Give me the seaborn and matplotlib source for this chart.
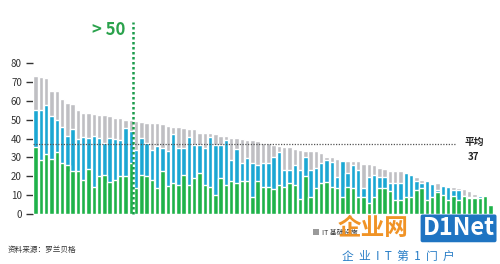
import matplotlib
matplotlib.use("Agg")
import matplotlib.pyplot as plt
import seaborn as sns
import pandas as pd
import numpy as np

# ---- data ----
total = [73.3, 72.4, 72, 65, 65, 61, 59, 58.5, 55, 53.6, 53.5, 53, 52.5, 52.5, 52, 51, 51, 50, 50,
         49.5, 49, 48.5, 48, 48, 47.8, 46.5, 46.2, 46, 45.6,
         45, 45, 43.2, 43, 43, 42.2, 41.5, 41.5, 40.4, 40.4, 39.7, 39.3, 39, 38.6, 37.9, 37.5, 36.7, 36.3,
         35.8, 35.3, 34.4, 34, 33.5, 33.5, 33.2, 32.3,
         30.5, 30.5, 29.1, 28.8, 28.3, 27.9, 27.9, 26.6, 26.6, 26, 24.4, 23.8, 22.6, 22.6, 22.6, 22, 21.5,
         19.6, 18.2, 17.6, 16.7, 16.4, 15.5, 14.6, 14.1, 13.8, 13.2, 12, 10.8, 10.2, 9.7, 4.9]
blue_top = [55.2, 55, 58, 52, 50, 46, 41.5, 45, 39.7, 41, 40.5, 41.5, 40.5, 37.6, 40.5, 40, 39.4, 45.5, 43.8,
            34, 40.5, 37.5, 34, 36, 35, 33.2, 42.4, 35, 35,
            41, 36.7, 36.7, 35, 41, 36.7, 36.7, 39, 28.8, 34.4, 27.3, 29.7, 27, 26, 27.3, 27.3, 30.5, 32.8,
            23.5, 23.5, 26, 23.2, 30.5, 23.2, 24.4, 27,
            28.8, 27.5, 19.6, 27.9, 21.9, 26.2, 23.5, 13.8, 19.9, 20.8, 19.9, 19.9, 16.7, 16.4, 16.4, 22, 20.5,
            17.3, 16.7, 17.3, 16.2, 12.9, 14.8, 14.3, 12.6, 12.6, 9.7, 9.3, 9.3, 9.8, 9.7, 4.9]
green_top = [35.5, 28.5, 32, 29, 33, 27, 26, 23, 22.6, 18.2, 24, 14.6, 20, 20.8, 17, 18, 20, 20, 27,
             13.8, 20.5, 20, 18, 13.8, 22.6, 15, 16.4, 15.5, 20.8,
             15.5, 19, 21.7, 15.5, 14.3, 10.2, 19, 15.5, 17.3, 16.4, 17.3, 17.3, 9.3, 17.3, 14.6, 14.6, 13.2, 15.5,
             14.3, 16.4, 15.5, 7.9, 20, 9.3, 13.8, 16.4,
             17, 14.3, 13.8, 9.3, 14.6, 13.8, 9.3, 9.3, 5.8, 9.3, 13.8, 13.8, 12, 7.6, 7.6, 9.3, 9.3,
             12.9, 13.8, 7.6, 9.3, 11.5, 10.2, 7.6, 9.7, 7.6, 9.7, 8.5, 8.5, 8.5, 9.7, 4.9]
average = 37
threshold_index = 18.5          # boundary of companies > 50
yticks = [0, 10, 20, 30, 40, 50, 60, 70, 80]
legend_label = "IT 基础设施"
source_text = "资料来源：罗兰贝格"

# ---- plotting ----
sns.set_style("white")
plt.rcParams['font.family'] = ['Noto Sans CJK SC', 'DejaVu Sans']

n = len(total)
df = pd.DataFrame({"company": list(range(n)), "total": total,
                   "blue": blue_top, "green": green_top})

fig = plt.figure(figsize=(5.0, 2.64), dpi=100)
ax = fig.add_axes([0.066, 0.189, 0.92, 0.572])

GRAY = "#bfbfc3"
BLUE = "#1ba7d3"
GREEN = "#1fb24a"
bw = 0.84
sns.barplot(data=df, x="company", y="total", color=GRAY, width=bw, saturation=1, ax=ax)
sns.barplot(data=df, x="company", y="blue", color=BLUE, width=bw, saturation=1, ax=ax)
sns.barplot(data=df, x="company", y="green", color=GREEN, width=bw, saturation=1, ax=ax)

ax.set_xlim(-0.5, n - 0.5)
ax.set_ylim(0, 80)
ax.set_yticks(yticks)
ax.set_yticklabels([str(v) for v in yticks], fontsize=7, color="#333333")
ax.set_xticks([])
ax.set_xlabel("")
ax.set_ylabel("")
for s in ax.spines.values():
    s.set_visible(False)
ax.tick_params(axis="y", left=True, length=5, width=1, color="#333333", pad=3)

# average dotted line
ax.plot([-0.5, 79.4], [average, average], linestyle=(0, (1, 1.2)), color="#555555", lw=0.9)
fig.text(0.948, 0.462, "平均", ha="center", va="center", fontsize=7, fontweight="bold", color="#222222")
fig.text(0.948, 0.405, str(average), ha="center", va="center", fontsize=7, fontweight="bold", color="#222222")

# > 50 vertical dotted line
ax.plot([threshold_index, threshold_index], [0, 102], linestyle=(0, (1, 1)), color="#1a9a4a",
        lw=1.8, clip_on=False)
ax.text(16.9, 97.6, "> 50", ha="right", va="center", fontsize=12, fontweight="bold",
        color="#2aa24c", clip_on=False)

# legend
fig.patches.append(plt.Rectangle((0.626, 0.111), 0.011, 0.022, transform=fig.transFigure,
                                 facecolor="#9a9a9a", edgecolor="none"))
fig.text(0.643, 0.122, legend_label, ha="left", va="center", fontsize=5, color="#333333")

# source
fig.text(0.016, 0.053, source_text, ha="left", va="center", fontsize=5.5, color="#333333")

# watermark
fig.text(0.676, 0.135, "企业网", ha="left", va="center", fontsize=17, fontweight="bold",
         color="#f08d1a", alpha=0.95)
fig.text(0.845, 0.135, "D1Net", ha="left", va="center", fontsize=17, fontweight="bold",
         color="white", bbox=dict(boxstyle="round,pad=0.08", facecolor="#1f74c2", edgecolor="none"))
fig.text(0.684, 0.03, "企  业  I  T  第  1  门  户", ha="left", va="center", fontsize=8.5,
         color="#2a7fc7")

fig.savefig("out.png", dpi=100)
